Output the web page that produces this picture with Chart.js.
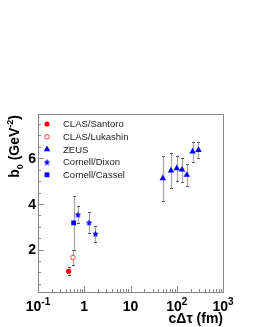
<!DOCTYPE html>
<html><head><meta charset="utf-8">
<script src="https://cdn.jsdelivr.net/npm/chart.js@4"></script>
<style>html,body{margin:0;padding:0;background:#fff}#c{display:block}</style>
</head><body>
<canvas id="c" width="253" height="327"></canvas>
<script>
// ---- data ----
const seriesNames = ["CLAS/Santoro", "CLAS/Lukashin", "ZEUS", "Cornell/Dixon", "Cornell/Cassel"];
const santoroX = [0.46], santoroY = [1.05], santoroErr = [0.18];
const lukashinX = [0.57], lukashinY = [1.65], lukashinErr = [0.32];
const zeusX = [50, 75, 100, 130, 165, 220, 295];
const zeusY = [5.12, 5.46, 5.56, 5.50, 5.27, 6.29, 6.36];
const zeusErr = [0.98, 0.77, 0.56, 0.52, 0.48, 0.44, 0.34];
const dixonX = [0.73, 1.27, 1.75], dixonY = [3.53, 3.18, 2.69], dixonErr = [0.38, 0.46, 0.36];
const casselX = [0.59], casselY = [3.17], casselErr = [1.18];
const xTickExps = [-1, 0, 1, 2, 3];
const yTicks = [2, 4, 6];

// star marker
function makeStar(color, size) {
  const cv = document.createElement('canvas');
  cv.width = size; cv.height = size;
  const c = cv.getContext('2d');
  const cx = size / 2, cy = size / 2 + 0.3, ro = size / 2, ri = ro * 0.45;
  c.beginPath();
  for (let i = 0; i < 10; i++) {
    const r = i % 2 ? ri : ro;
    const a = -Math.PI / 2 + i * Math.PI / 5;
    c.lineTo(cx + r * Math.cos(a), cy + r * Math.sin(a));
  }
  c.closePath(); c.fillStyle = color; c.fill();
  return cv;
}
const starImg = makeStar('#0000ff', 7);

function pts(xs, ys, es) { return xs.map((x, i) => ({x: x, y: ys[i], e: es[i]})); }

const datasets = [
  {label: seriesNames[0], data: pts(santoroX, santoroY, santoroErr), pointStyle: 'circle', pointRadius: 2.6, backgroundColor: '#ff0000', borderColor: '#ff0000', borderWidth: 0},
  {label: seriesNames[1], data: pts(lukashinX, lukashinY, lukashinErr), pointStyle: 'circle', pointRadius: 2.3, backgroundColor: 'rgba(255,255,255,1)', borderColor: '#ff4040', borderWidth: 1},
  {label: seriesNames[2], data: pts(zeusX, zeusY, zeusErr), pointStyle: 'triangle', pointRadius: 3.8, backgroundColor: '#0000ff', borderColor: '#0000ff', borderWidth: 0},
  {label: seriesNames[3], data: pts(dixonX, dixonY, dixonErr), pointStyle: starImg, pointRadius: 3.5, backgroundColor: '#0000ff', borderColor: '#0000ff'},
  {label: seriesNames[4], data: pts(casselX, casselY, casselErr), pointStyle: 'rect', pointRadius: 3.4, backgroundColor: '#0000ff', borderColor: '#0000ff', borderWidth: 0}
];

const FONT = '"Liberation Sans", Arial, Helvetica, sans-serif';

const errorBars = {
  id: 'errorBars',
  beforeDatasetsDraw(chart) {
    const ctx = chart.ctx, xs = chart.scales.x, ys = chart.scales.y;
    ctx.save();
    chart.data.datasets.forEach(ds => {
      ds.data.forEach(p => {
        const px = Math.round(xs.getPixelForValue(p.x)) + 0.5;
        const y1 = ys.getPixelForValue(p.y + p.e), y2 = ys.getPixelForValue(p.y - p.e);
        ctx.strokeStyle = '#a8a8a8'; ctx.lineWidth = 1.3;
        ctx.beginPath(); ctx.moveTo(px, y1); ctx.lineTo(px, y2); ctx.stroke();
        ctx.strokeStyle = '#555'; ctx.lineWidth = 1;
        ctx.beginPath();
        ctx.moveTo(px - 1.5, Math.round(y1) + 0.5); ctx.lineTo(px + 1.5, Math.round(y1) + 0.5);
        ctx.moveTo(px - 1.5, Math.round(y2) + 0.5); ctx.lineTo(px + 1.5, Math.round(y2) + 0.5);
        ctx.stroke();
      });
    });
    ctx.restore();
  }
};

function drawMarker(ctx, ds, x, y) {
  if (ds.pointStyle instanceof HTMLCanvasElement) {
    ctx.drawImage(ds.pointStyle, x - ds.pointStyle.width / 2, y - ds.pointStyle.height / 2);
    return;
  }
  ctx.fillStyle = ds.backgroundColor; ctx.strokeStyle = ds.borderColor; ctx.lineWidth = ds.borderWidth || 0;
  Chart.helpers.drawPoint(ctx, {pointStyle: ds.pointStyle, radius: ds.pointRadius, rotation: 0, borderWidth: ds.borderWidth || 0}, x, y);
}

const frame = {
  id: 'frame',
  afterDraw(chart) {
    const ctx = chart.ctx, a = chart.chartArea, xs = chart.scales.x, ys = chart.scales.y;
    ctx.save();
    // frame
    ctx.strokeStyle = '#888'; ctx.lineWidth = 1;
    ctx.strokeRect(Math.round(a.left) + 0.5, Math.round(a.top) + 0.5, Math.round(a.right - a.left), Math.round(a.bottom - a.top));
    // y ticks
    ctx.beginPath();
    for (let v = 0.5; v < ys.max; v += 0.5) {
      if (v < ys.min) continue;
      const py = Math.round(ys.getPixelForValue(v)) + 0.5;
      const major = Math.abs(v % 2) < 1e-6;
      ctx.moveTo(a.left, py); ctx.lineTo(a.left + (major ? 6 : 3), py);
    }
    // x ticks
    for (let e = -1; e < 3; e++) {
      for (let m = 1; m < 10; m++) {
        const v = m * Math.pow(10, e);
        const px = Math.round(xs.getPixelForValue(v)) + 0.5;
        ctx.moveTo(px, a.bottom); ctx.lineTo(px, a.bottom - (m === 1 ? 6 : 3));
      }
    }
    ctx.stroke();
    // y labels
    ctx.fillStyle = '#000';
    ctx.font = 'bold 14px ' + FONT;
    ctx.textAlign = 'right'; ctx.textBaseline = 'middle';
    yTicks.forEach(v => ctx.fillText(String(v), a.left - 2, ys.getPixelForValue(v) + 1));
    // x labels
    ctx.textBaseline = 'alphabetic';
    xTickExps.forEach(e => {
      const px = xs.getPixelForValue(Math.pow(10, e));
      const base = 311;
      let main, sup;
      if (e === 0) { main = '1'; sup = ''; }
      else if (e === 1) { main = '10'; sup = ''; }
      else { main = '10'; sup = String(e); }
      ctx.font = 'bold 14px ' + FONT;
      const w1 = ctx.measureText(main).width;
      ctx.font = 'bold 10px ' + FONT;
      const w2 = sup ? ctx.measureText(sup).width : 0;
      const x0 = px - (w1 + w2) / 2;
      ctx.textAlign = 'left';
      ctx.font = 'bold 14px ' + FONT;
      ctx.fillText(main, x0, base);
      if (sup) { ctx.font = 'bold 10px ' + FONT; ctx.fillText(sup, x0 + w1, base - 6); }
    });
    // x title
    ctx.font = 'bold 14px ' + FONT;
    ctx.textAlign = 'right';
    ctx.fillText('c\u0394\u03c4 (fm)', a.right, 323);
    // y title (rotated)
    ctx.save();
    ctx.translate(19, a.top);
    ctx.rotate(-Math.PI / 2);
    const parts = [['b', 14, 0], ['0', 9, 4], [' (GeV', 14, 0], ['-2', 9, -6], [')', 14, 0]];
    let total = 0;
    parts.forEach(p => { ctx.font = 'bold ' + p[1] + 'px ' + FONT; total += ctx.measureText(p[0]).width; });
    let cx = -total - 1;
    ctx.textAlign = 'left';
    parts.forEach(p => { ctx.font = 'bold ' + p[1] + 'px ' + FONT; ctx.fillText(p[0], cx, p[2]); cx += ctx.measureText(p[0]).width; });
    ctx.restore();
    // legend
    ctx.font = '9.5px ' + FONT;
    ctx.textAlign = 'left'; ctx.textBaseline = 'middle';
    chart.data.datasets.forEach((ds, i) => {
      const ly = 124 + i * 12.7;
      drawMarker(ctx, ds, 47, ly);
      ctx.fillStyle = '#222';
      ctx.fillText(ds.label, 63, ly + 0.5);
    });
    ctx.restore();
  }
};

new Chart(document.getElementById('c'), {
  type: 'scatter',
  data: {datasets: datasets},
  options: {
    responsive: false,
    devicePixelRatio: 1,
    animation: false,
    layout: {padding: {left: 38, right: 30, top: 114, bottom: 35}},
    plugins: {legend: {display: false}, tooltip: {enabled: false}},
    scales: {
      x: {type: 'logarithmic', min: 0.1, max: 1000, display: false},
      y: {type: 'linear', min: 0.14, max: 7.94, display: false}
    }
  },
  plugins: [errorBars, frame]
});
</script>
</body></html>
